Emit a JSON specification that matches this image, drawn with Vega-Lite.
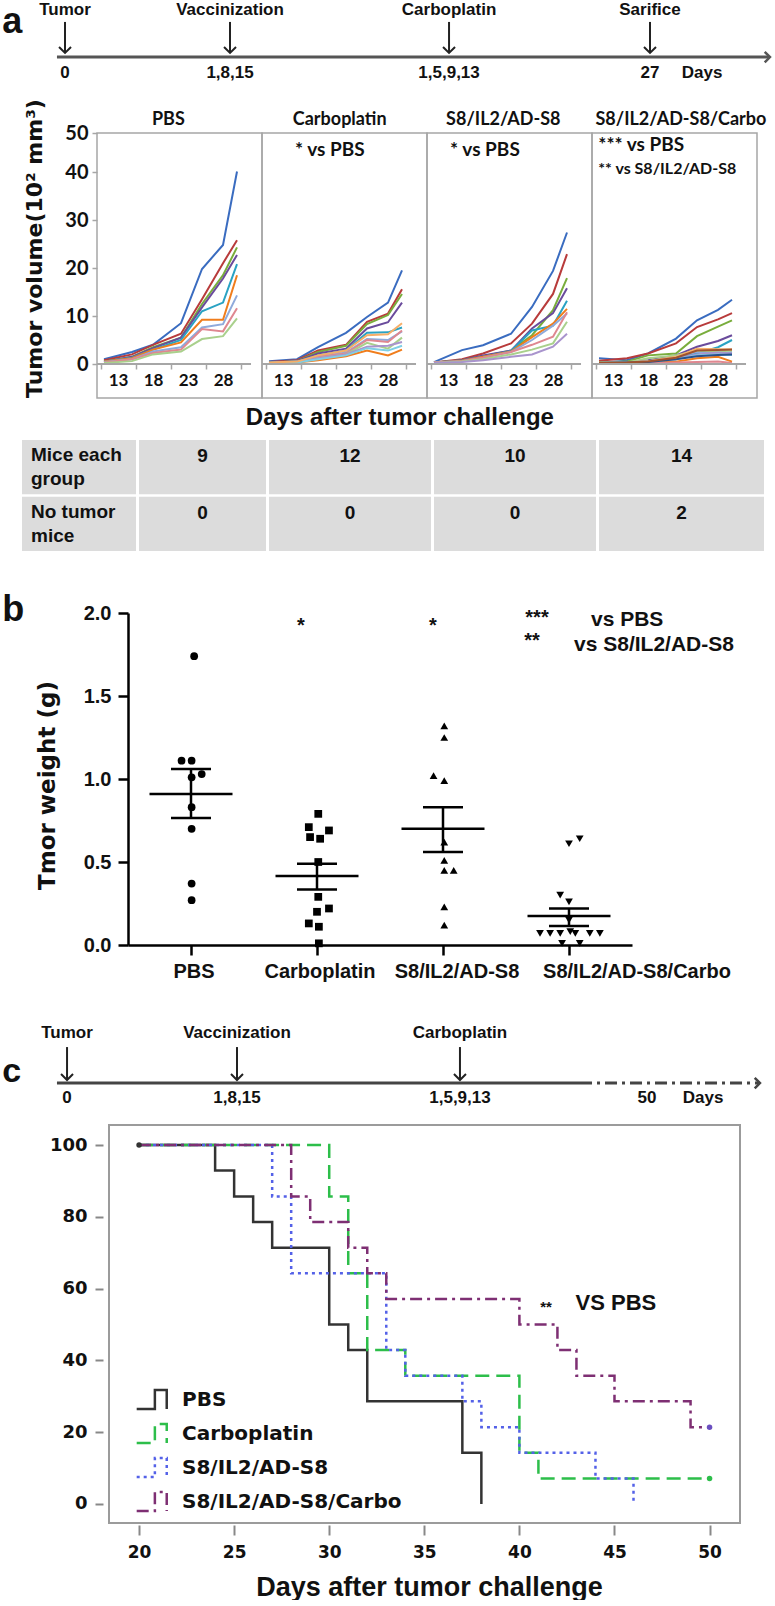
{
"$schema":"https://vega.github.io/schema/vega-lite/v6.json",
"background":"white","padding":0,"spacing":0,"bounds":"flush",
"resolve":{"scale":{"color":"independent","shape":"independent","strokeDash":"independent"},"legend":{"color":"independent","strokeDash":"independent"}},
"config":{"view":{"stroke":null},"font":"Liberation Sans","axis":{"grid":false,"labelColor":"#111","titleColor":"#111","labelFontWeight":"bold","titleFontWeight":"bold"},"text":{"font":"Liberation Sans","fontWeight":"bold","color":"#111"},"title":{"color":"#111","fontWeight":"bold"}},
"datasets":{
"vol":[
{"g":"PBS","m":1,"d":11,"v":1.0},{"g":"PBS","m":1,"d":15,"v":2.5},{"g":"PBS","m":1,"d":18,"v":4.0},{"g":"PBS","m":1,"d":22,"v":8.5},{"g":"PBS","m":1,"d":25,"v":19.8},{"g":"PBS","m":1,"d":28,"v":24.8},{"g":"PBS","m":1,"d":30,"v":40.1},
{"g":"PBS","m":2,"d":11,"v":0.8},{"g":"PBS","m":2,"d":15,"v":2.0},{"g":"PBS","m":2,"d":18,"v":4.0},{"g":"PBS","m":2,"d":22,"v":6.3},{"g":"PBS","m":2,"d":25,"v":13.5},{"g":"PBS","m":2,"d":28,"v":21.0},{"g":"PBS","m":2,"d":30,"v":25.8},
{"g":"PBS","m":3,"d":11,"v":0.5},{"g":"PBS","m":3,"d":15,"v":1.5},{"g":"PBS","m":3,"d":18,"v":3.5},{"g":"PBS","m":3,"d":22,"v":5.5},{"g":"PBS","m":3,"d":25,"v":12.5},{"g":"PBS","m":3,"d":28,"v":18.5},{"g":"PBS","m":3,"d":30,"v":24.3},
{"g":"PBS","m":4,"d":11,"v":0.5},{"g":"PBS","m":4,"d":15,"v":1.5},{"g":"PBS","m":4,"d":18,"v":3.3},{"g":"PBS","m":4,"d":22,"v":5.5},{"g":"PBS","m":4,"d":25,"v":11.8},{"g":"PBS","m":4,"d":28,"v":17.8},{"g":"PBS","m":4,"d":30,"v":22.7},
{"g":"PBS","m":5,"d":11,"v":0.5},{"g":"PBS","m":5,"d":15,"v":1.3},{"g":"PBS","m":5,"d":18,"v":3.0},{"g":"PBS","m":5,"d":22,"v":5.0},{"g":"PBS","m":5,"d":25,"v":11.0},{"g":"PBS","m":5,"d":28,"v":12.8},{"g":"PBS","m":5,"d":30,"v":20.8},
{"g":"PBS","m":6,"d":11,"v":0.5},{"g":"PBS","m":6,"d":15,"v":1.2},{"g":"PBS","m":6,"d":18,"v":3.0},{"g":"PBS","m":6,"d":22,"v":4.5},{"g":"PBS","m":6,"d":25,"v":9.2},{"g":"PBS","m":6,"d":28,"v":9.2},{"g":"PBS","m":6,"d":30,"v":18.5},
{"g":"PBS","m":7,"d":11,"v":0.4},{"g":"PBS","m":7,"d":15,"v":1.0},{"g":"PBS","m":7,"d":18,"v":2.6},{"g":"PBS","m":7,"d":22,"v":3.5},{"g":"PBS","m":7,"d":25,"v":7.6},{"g":"PBS","m":7,"d":28,"v":8.3},{"g":"PBS","m":7,"d":30,"v":14.3},
{"g":"PBS","m":8,"d":11,"v":0.3},{"g":"PBS","m":8,"d":15,"v":1.0},{"g":"PBS","m":8,"d":18,"v":2.3},{"g":"PBS","m":8,"d":22,"v":3.0},{"g":"PBS","m":8,"d":25,"v":7.3},{"g":"PBS","m":8,"d":28,"v":6.8},{"g":"PBS","m":8,"d":30,"v":11.6},
{"g":"PBS","m":9,"d":11,"v":0.2},{"g":"PBS","m":9,"d":15,"v":0.6},{"g":"PBS","m":9,"d":18,"v":2.0},{"g":"PBS","m":9,"d":22,"v":2.6},{"g":"PBS","m":9,"d":25,"v":5.2},{"g":"PBS","m":9,"d":28,"v":5.8},{"g":"PBS","m":9,"d":30,"v":9.5},
{"g":"C","m":1,"d":11,"v":0.6},{"g":"C","m":1,"d":15,"v":1.0},{"g":"C","m":1,"d":18,"v":3.5},{"g":"C","m":1,"d":22,"v":6.5},{"g":"C","m":1,"d":25,"v":9.8},{"g":"C","m":1,"d":28,"v":12.8},{"g":"C","m":1,"d":30,"v":19.5},
{"g":"C","m":2,"d":11,"v":0.4},{"g":"C","m":2,"d":15,"v":0.8},{"g":"C","m":2,"d":18,"v":2.8},{"g":"C","m":2,"d":22,"v":4.0},{"g":"C","m":2,"d":25,"v":8.8},{"g":"C","m":2,"d":28,"v":10.5},{"g":"C","m":2,"d":30,"v":15.6},
{"g":"C","m":3,"d":11,"v":0.3},{"g":"C","m":3,"d":15,"v":0.6},{"g":"C","m":3,"d":18,"v":2.5},{"g":"C","m":3,"d":22,"v":3.8},{"g":"C","m":3,"d":25,"v":8.3},{"g":"C","m":3,"d":28,"v":10.2},{"g":"C","m":3,"d":30,"v":14.6},
{"g":"C","m":4,"d":11,"v":0.3},{"g":"C","m":4,"d":15,"v":0.6},{"g":"C","m":4,"d":18,"v":2.2},{"g":"C","m":4,"d":22,"v":3.2},{"g":"C","m":4,"d":25,"v":7.4},{"g":"C","m":4,"d":28,"v":8.7},{"g":"C","m":4,"d":30,"v":12.8},
{"g":"C","m":5,"d":11,"v":0.3},{"g":"C","m":5,"d":15,"v":0.5},{"g":"C","m":5,"d":18,"v":1.8},{"g":"C","m":5,"d":22,"v":2.8},{"g":"C","m":5,"d":25,"v":6.5},{"g":"C","m":5,"d":28,"v":6.6},{"g":"C","m":5,"d":30,"v":7.6},
{"g":"C","m":6,"d":11,"v":0.1},{"g":"C","m":6,"d":15,"v":0.3},{"g":"C","m":6,"d":18,"v":0.8},{"g":"C","m":6,"d":22,"v":1.6},{"g":"C","m":6,"d":25,"v":2.8},{"g":"C","m":6,"d":28,"v":1.8},{"g":"C","m":6,"d":30,"v":3.0},
{"g":"C","m":7,"d":11,"v":0.2},{"g":"C","m":7,"d":15,"v":0.5},{"g":"C","m":7,"d":18,"v":1.5},{"g":"C","m":7,"d":22,"v":2.4},{"g":"C","m":7,"d":25,"v":5.2},{"g":"C","m":7,"d":28,"v":5.0},{"g":"C","m":7,"d":30,"v":6.8},
{"g":"C","m":8,"d":11,"v":0.2},{"g":"C","m":8,"d":15,"v":0.4},{"g":"C","m":8,"d":18,"v":1.5},{"g":"C","m":8,"d":22,"v":2.2},{"g":"C","m":8,"d":25,"v":5.0},{"g":"C","m":8,"d":28,"v":4.6},{"g":"C","m":8,"d":30,"v":7.0},
{"g":"C","m":9,"d":11,"v":0.2},{"g":"C","m":9,"d":15,"v":0.4},{"g":"C","m":9,"d":18,"v":1.2},{"g":"C","m":9,"d":22,"v":2.0},{"g":"C","m":9,"d":25,"v":4.4},{"g":"C","m":9,"d":28,"v":3.2},{"g":"C","m":9,"d":30,"v":5.5},
{"g":"C","m":10,"d":11,"v":0.2},{"g":"C","m":10,"d":15,"v":0.4},{"g":"C","m":10,"d":18,"v":1.2},{"g":"C","m":10,"d":22,"v":2.0},{"g":"C","m":10,"d":25,"v":3.6},{"g":"C","m":10,"d":28,"v":3.8},{"g":"C","m":10,"d":30,"v":4.6},
{"g":"C","m":11,"d":11,"v":0.2},{"g":"C","m":11,"d":15,"v":0.3},{"g":"C","m":11,"d":18,"v":1.0},{"g":"C","m":11,"d":22,"v":1.8},{"g":"C","m":11,"d":25,"v":3.3},{"g":"C","m":11,"d":28,"v":2.8},{"g":"C","m":11,"d":30,"v":3.8},
{"g":"C","m":12,"d":11,"v":0.3},{"g":"C","m":12,"d":15,"v":0.5},{"g":"C","m":12,"d":18,"v":1.8},{"g":"C","m":12,"d":22,"v":2.8},{"g":"C","m":12,"d":25,"v":6.0},{"g":"C","m":12,"d":28,"v":6.2},{"g":"C","m":12,"d":30,"v":8.5},
{"g":"S8","m":1,"d":11,"v":0.4},{"g":"S8","m":1,"d":15,"v":2.9},{"g":"S8","m":1,"d":18,"v":3.9},{"g":"S8","m":1,"d":22,"v":6.3},{"g":"S8","m":1,"d":25,"v":11.9},{"g":"S8","m":1,"d":28,"v":19.4},{"g":"S8","m":1,"d":30,"v":27.4},
{"g":"S8","m":2,"d":11,"v":0.3},{"g":"S8","m":2,"d":15,"v":1.0},{"g":"S8","m":2,"d":18,"v":2.2},{"g":"S8","m":2,"d":22,"v":4.3},{"g":"S8","m":2,"d":25,"v":8.4},{"g":"S8","m":2,"d":28,"v":14.6},{"g":"S8","m":2,"d":30,"v":22.9},
{"g":"S8","m":3,"d":11,"v":0.3},{"g":"S8","m":3,"d":15,"v":0.8},{"g":"S8","m":3,"d":18,"v":1.6},{"g":"S8","m":3,"d":22,"v":2.8},{"g":"S8","m":3,"d":25,"v":6.0},{"g":"S8","m":3,"d":28,"v":11.2},{"g":"S8","m":3,"d":30,"v":17.9},
{"g":"S8","m":4,"d":11,"v":0.3},{"g":"S8","m":4,"d":15,"v":0.8},{"g":"S8","m":4,"d":18,"v":1.8},{"g":"S8","m":4,"d":22,"v":2.8},{"g":"S8","m":4,"d":25,"v":7.4},{"g":"S8","m":4,"d":28,"v":10.6},{"g":"S8","m":4,"d":30,"v":15.8},
{"g":"S8","m":5,"d":11,"v":0.3},{"g":"S8","m":5,"d":15,"v":0.7},{"g":"S8","m":5,"d":18,"v":1.5},{"g":"S8","m":5,"d":22,"v":2.7},{"g":"S8","m":5,"d":25,"v":7.0},{"g":"S8","m":5,"d":28,"v":8.0},{"g":"S8","m":5,"d":30,"v":13.2},
{"g":"S8","m":6,"d":11,"v":0.3},{"g":"S8","m":6,"d":15,"v":0.7},{"g":"S8","m":6,"d":18,"v":1.5},{"g":"S8","m":6,"d":22,"v":2.6},{"g":"S8","m":6,"d":25,"v":5.6},{"g":"S8","m":6,"d":28,"v":8.4},{"g":"S8","m":6,"d":30,"v":11.5},
{"g":"S8","m":7,"d":11,"v":0.3},{"g":"S8","m":7,"d":15,"v":0.6},{"g":"S8","m":7,"d":18,"v":1.3},{"g":"S8","m":7,"d":22,"v":2.5},{"g":"S8","m":7,"d":25,"v":5.0},{"g":"S8","m":7,"d":28,"v":8.0},{"g":"S8","m":7,"d":30,"v":10.5},
{"g":"S8","m":8,"d":11,"v":0.3},{"g":"S8","m":8,"d":15,"v":0.6},{"g":"S8","m":8,"d":18,"v":1.3},{"g":"S8","m":8,"d":22,"v":2.5},{"g":"S8","m":8,"d":25,"v":4.0},{"g":"S8","m":8,"d":28,"v":5.7},{"g":"S8","m":8,"d":30,"v":10.8},
{"g":"S8","m":9,"d":11,"v":0.2},{"g":"S8","m":9,"d":15,"v":0.5},{"g":"S8","m":9,"d":18,"v":1.0},{"g":"S8","m":9,"d":22,"v":2.0},{"g":"S8","m":9,"d":25,"v":3.0},{"g":"S8","m":9,"d":28,"v":4.3},{"g":"S8","m":9,"d":30,"v":8.8},
{"g":"S8","m":10,"d":11,"v":0.2},{"g":"S8","m":10,"d":15,"v":0.4},{"g":"S8","m":10,"d":18,"v":0.8},{"g":"S8","m":10,"d":22,"v":1.5},{"g":"S8","m":10,"d":25,"v":2.0},{"g":"S8","m":10,"d":28,"v":3.6},{"g":"S8","m":10,"d":30,"v":6.3},
{"g":"SC","m":1,"d":11,"v":1.2},{"g":"SC","m":1,"d":15,"v":0.8},{"g":"SC","m":1,"d":18,"v":2.2},{"g":"SC","m":1,"d":22,"v":5.3},{"g":"SC","m":1,"d":25,"v":9.1},{"g":"SC","m":1,"d":28,"v":11.3},{"g":"SC","m":1,"d":30,"v":13.4},
{"g":"SC","m":2,"d":11,"v":0.7},{"g":"SC","m":2,"d":15,"v":1.2},{"g":"SC","m":2,"d":18,"v":2.2},{"g":"SC","m":2,"d":22,"v":4.3},{"g":"SC","m":2,"d":25,"v":7.7},{"g":"SC","m":2,"d":28,"v":9.3},{"g":"SC","m":2,"d":30,"v":10.6},
{"g":"SC","m":3,"d":11,"v":0.3},{"g":"SC","m":3,"d":15,"v":0.5},{"g":"SC","m":3,"d":18,"v":1.8},{"g":"SC","m":3,"d":22,"v":2.2},{"g":"SC","m":3,"d":25,"v":5.8},{"g":"SC","m":3,"d":28,"v":7.8},{"g":"SC","m":3,"d":30,"v":9.1},
{"g":"SC","m":4,"d":11,"v":0.2},{"g":"SC","m":4,"d":15,"v":0.3},{"g":"SC","m":4,"d":18,"v":0.8},{"g":"SC","m":4,"d":22,"v":1.8},{"g":"SC","m":4,"d":25,"v":3.6},{"g":"SC","m":4,"d":28,"v":4.8},{"g":"SC","m":4,"d":30,"v":6.0},
{"g":"SC","m":5,"d":11,"v":0.2},{"g":"SC","m":5,"d":15,"v":0.3},{"g":"SC","m":5,"d":18,"v":0.6},{"g":"SC","m":5,"d":22,"v":1.5},{"g":"SC","m":5,"d":25,"v":2.2},{"g":"SC","m":5,"d":28,"v":3.5},{"g":"SC","m":5,"d":30,"v":5.0},
{"g":"SC","m":6,"d":11,"v":0.1},{"g":"SC","m":6,"d":15,"v":0.2},{"g":"SC","m":6,"d":18,"v":0.3},{"g":"SC","m":6,"d":22,"v":0.5},{"g":"SC","m":6,"d":25,"v":1.2},{"g":"SC","m":6,"d":28,"v":1.5},{"g":"SC","m":6,"d":30,"v":0.5},
{"g":"SC","m":7,"d":11,"v":0.2},{"g":"SC","m":7,"d":15,"v":0.3},{"g":"SC","m":7,"d":18,"v":0.5},{"g":"SC","m":7,"d":22,"v":1.6},{"g":"SC","m":7,"d":25,"v":2.5},{"g":"SC","m":7,"d":28,"v":2.2},{"g":"SC","m":7,"d":30,"v":2.5},
{"g":"SC","m":8,"d":11,"v":0.1},{"g":"SC","m":8,"d":15,"v":0.1},{"g":"SC","m":8,"d":18,"v":0.2},{"g":"SC","m":8,"d":22,"v":0.3},{"g":"SC","m":8,"d":25,"v":0.4},{"g":"SC","m":8,"d":28,"v":0.5},{"g":"SC","m":8,"d":30,"v":0.2},
{"g":"SC","m":9,"d":11,"v":0.2},{"g":"SC","m":9,"d":15,"v":0.3},{"g":"SC","m":9,"d":18,"v":1.2},{"g":"SC","m":9,"d":22,"v":1.8},{"g":"SC","m":9,"d":25,"v":2.8},{"g":"SC","m":9,"d":28,"v":2.6},{"g":"SC","m":9,"d":30,"v":2.8},
{"g":"SC","m":10,"d":11,"v":0.2},{"g":"SC","m":10,"d":15,"v":0.3},{"g":"SC","m":10,"d":18,"v":0.6},{"g":"SC","m":10,"d":22,"v":1.2},{"g":"SC","m":10,"d":25,"v":2.0},{"g":"SC","m":10,"d":28,"v":2.4},{"g":"SC","m":10,"d":30,"v":2.2},
{"g":"SC","m":11,"d":11,"v":0.2},{"g":"SC","m":11,"d":15,"v":0.3},{"g":"SC","m":11,"d":18,"v":0.5},{"g":"SC","m":11,"d":22,"v":1.0},{"g":"SC","m":11,"d":25,"v":1.8},{"g":"SC","m":11,"d":28,"v":2.0},{"g":"SC","m":11,"d":30,"v":1.9},
{"g":"SC","m":12,"d":11,"v":0.2},{"g":"SC","m":12,"d":15,"v":0.3},{"g":"SC","m":12,"d":18,"v":0.6},{"g":"SC","m":12,"d":22,"v":1.5},{"g":"SC","m":12,"d":25,"v":3.2},{"g":"SC","m":12,"d":28,"v":3.1},{"g":"SC","m":12,"d":30,"v":3.0},
{"g":"SC","m":13,"d":11,"v":0.2},{"g":"SC","m":13,"d":15,"v":0.3},{"g":"SC","m":13,"d":18,"v":0.4},{"g":"SC","m":13,"d":22,"v":1.0},{"g":"SC","m":13,"d":25,"v":1.6},{"g":"SC","m":13,"d":28,"v":1.9},{"g":"SC","m":13,"d":30,"v":2.0},
{"g":"SC","m":14,"d":11,"v":0.2},{"g":"SC","m":14,"d":15,"v":0.3},{"g":"SC","m":14,"d":18,"v":0.5},{"g":"SC","m":14,"d":22,"v":1.3},{"g":"SC","m":14,"d":25,"v":2.8},{"g":"SC","m":14,"d":28,"v":2.9},{"g":"SC","m":14,"d":30,"v":3.0}
],
"wt":[
{"g":"PBS","w":1.74,"j":0.05},{"g":"PBS","w":1.11,"j":-0.15},{"g":"PBS","w":1.11,"j":0.01},{"g":"PBS","w":1.01,"j":0.01},{"g":"PBS","w":1.03,"j":0.17},{"g":"PBS","w":0.83,"j":0.01},{"g":"PBS","w":0.70,"j":0.01},{"g":"PBS","w":0.37,"j":0.01},{"g":"PBS","w":0.27,"j":0.01},
{"g":"Carboplatin","w":0.79,"j":0.02},{"g":"Carboplatin","w":0.71,"j":-0.13},{"g":"Carboplatin","w":0.69,"j":0.19},{"g":"Carboplatin","w":0.65,"j":-0.11},{"g":"Carboplatin","w":0.64,"j":0.05},{"g":"Carboplatin","w":0.50,"j":0.02},{"g":"Carboplatin","w":0.29,"j":0.02},{"g":"Carboplatin","w":0.22,"j":0.19},{"g":"Carboplatin","w":0.20,"j":0.0},{"g":"Carboplatin","w":0.13,"j":-0.13},{"g":"Carboplatin","w":0.11,"j":0.03},{"g":"Carboplatin","w":0.01,"j":0.03},
{"g":"S8/IL2/AD-S8","w":1.32,"j":0.02},{"g":"S8/IL2/AD-S8","w":1.25,"j":0.02},{"g":"S8/IL2/AD-S8","w":1.02,"j":-0.15},{"g":"S8/IL2/AD-S8","w":0.99,"j":0.02},{"g":"S8/IL2/AD-S8","w":0.62,"j":0.02},{"g":"S8/IL2/AD-S8","w":0.51,"j":0.02},{"g":"S8/IL2/AD-S8","w":0.45,"j":0.02},{"g":"S8/IL2/AD-S8","w":0.45,"j":0.17},{"g":"S8/IL2/AD-S8","w":0.23,"j":0.02},{"g":"S8/IL2/AD-S8","w":0.12,"j":0.02},
{"g":"S8/IL2/AD-S8/Carbo","w":0.64,"j":0.17},{"g":"S8/IL2/AD-S8/Carbo","w":0.61,"j":0.0},{"g":"S8/IL2/AD-S8/Carbo","w":0.30,"j":-0.14},{"g":"S8/IL2/AD-S8/Carbo","w":0.26,"j":0.0},{"g":"S8/IL2/AD-S8/Carbo","w":0.15,"j":0.0},{"g":"S8/IL2/AD-S8/Carbo","w":0.07,"j":-0.46},{"g":"S8/IL2/AD-S8/Carbo","w":0.07,"j":-0.30},{"g":"S8/IL2/AD-S8/Carbo","w":0.07,"j":-0.14},{"g":"S8/IL2/AD-S8/Carbo","w":0.08,"j":0.02},{"g":"S8/IL2/AD-S8/Carbo","w":0.07,"j":0.10},{"g":"S8/IL2/AD-S8/Carbo","w":0.07,"j":0.33},{"g":"S8/IL2/AD-S8/Carbo","w":0.07,"j":0.49},{"g":"S8/IL2/AD-S8/Carbo","w":0.01,"j":-0.11},{"g":"S8/IL2/AD-S8/Carbo","w":0.01,"j":0.17}
],
"stats":[
{"g":"PBS","mean":0.91,"lo":0.765,"hi":1.06},
{"g":"Carboplatin","mean":0.415,"lo":0.335,"hi":0.49},
{"g":"S8/IL2/AD-S8","mean":0.70,"lo":0.56,"hi":0.83},
{"g":"S8/IL2/AD-S8/Carbo","mean":0.175,"lo":0.115,"hi":0.22}
],
"surv":[
{"g":"PBS","d":20,"s":100},{"g":"PBS","d":24,"s":92.9},{"g":"PBS","d":25,"s":85.7},{"g":"PBS","d":26,"s":78.6},{"g":"PBS","d":27,"s":71.4},{"g":"PBS","d":30,"s":50},{"g":"PBS","d":31,"s":42.9},{"g":"PBS","d":32,"s":28.6},{"g":"PBS","d":37,"s":14.3},{"g":"PBS","d":38,"s":0},
{"g":"Carboplatin","d":20,"s":100},{"g":"Carboplatin","d":30,"s":85.7},{"g":"Carboplatin","d":31,"s":64.3},{"g":"Carboplatin","d":32,"s":42.9},{"g":"Carboplatin","d":34,"s":35.7},{"g":"Carboplatin","d":40,"s":14.3},{"g":"Carboplatin","d":41,"s":7.1},{"g":"Carboplatin","d":50,"s":7.1},
{"g":"S8/IL2/AD-S8","d":20,"s":100},{"g":"S8/IL2/AD-S8","d":27,"s":85.7},{"g":"S8/IL2/AD-S8","d":28,"s":64.3},{"g":"S8/IL2/AD-S8","d":33,"s":42.9},{"g":"S8/IL2/AD-S8","d":34,"s":35.7},{"g":"S8/IL2/AD-S8","d":37,"s":28.6},{"g":"S8/IL2/AD-S8","d":38,"s":21.4},{"g":"S8/IL2/AD-S8","d":40,"s":14.3},{"g":"S8/IL2/AD-S8","d":44,"s":7.1},{"g":"S8/IL2/AD-S8","d":46,"s":0},
{"g":"S8/IL2/AD-S8/Carbo","d":20,"s":100},{"g":"S8/IL2/AD-S8/Carbo","d":28,"s":85.7},{"g":"S8/IL2/AD-S8/Carbo","d":29,"s":78.6},{"g":"S8/IL2/AD-S8/Carbo","d":31,"s":71.4},{"g":"S8/IL2/AD-S8/Carbo","d":32,"s":64.3},{"g":"S8/IL2/AD-S8/Carbo","d":33,"s":57.1},{"g":"S8/IL2/AD-S8/Carbo","d":40,"s":50},{"g":"S8/IL2/AD-S8/Carbo","d":42,"s":42.9},{"g":"S8/IL2/AD-S8/Carbo","d":43,"s":35.7},{"g":"S8/IL2/AD-S8/Carbo","d":45,"s":28.6},{"g":"S8/IL2/AD-S8/Carbo","d":49,"s":21.4},{"g":"S8/IL2/AD-S8/Carbo","d":50,"s":21.4}
],
"cens":[
{"g":"PBS","d":20,"s":100},{"g":"Carboplatin","d":50,"s":7.1},{"g":"S8/IL2/AD-S8/Carbo","d":50,"s":21.4}
]
},
"vconcat":[
{"width":775,"height":133,
 "data":{"values":[{"p":8.39,"top":"Tumor","bot":"0"},{"p":29.68,"top":"Vaccinization","bot":"1,8,15"},{"p":57.94,"top":"Carboplatin","bot":"1,5,9,13"},{"p":83.87,"top":"Sarifice","bot":"27"},{"p":90.6,"top":"","bot":"Days"}]},
 "layer":[
  {"data":{"values":[{}]},"mark":{"type":"rule","color":"#555","strokeWidth":3},
   "encoding":{"x":{"datum":7.35,"type":"quantitative","scale":{"domain":[0,100],"nice":false,"zero":false},"axis":null},"x2":{"datum":99.2},"y":{"datum":42.9,"type":"quantitative","scale":{"domain":[0,100],"reverse":true,"nice":false,"zero":false},"axis":null}}},
  {"data":{"values":[{}]},"mark":{"type":"point","shape":"M-1,-1L0,0L-1,1","filled":false,"color":"#555","strokeWidth":2.5,"size":110,"opacity":1},
   "encoding":{"x":{"datum":99.35,"type":"quantitative"},"y":{"datum":42.9,"type":"quantitative"}}},
  {"transform":[{"filter":"datum.top !== ''"}],"mark":{"type":"rule","color":"#222","strokeWidth":2},
   "encoding":{"x":{"field":"p","type":"quantitative"},"y":{"datum":16.5,"type":"quantitative"},"y2":{"datum":39.6}}},
  {"transform":[{"filter":"datum.top !== ''"}],"mark":{"type":"point","shape":"M-1,-1L0,0L1,-1","filled":false,"color":"#222","strokeWidth":2,"size":144,"opacity":1},
   "encoding":{"x":{"field":"p","type":"quantitative"},"y":{"datum":39.8,"type":"quantitative"}}},
  {"mark":{"type":"text","fontSize":17,"baseline":"middle"},"encoding":{"x":{"field":"p","type":"quantitative"},"y":{"datum":7.5,"type":"quantitative"},"text":{"field":"top"}}},
  {"mark":{"type":"text","fontSize":17,"baseline":"middle"},"encoding":{"x":{"field":"p","type":"quantitative"},"y":{"datum":54.9,"type":"quantitative"},"text":{"field":"bot"}}},
  {"data":{"values":[{}]},"mark":{"type":"text","text":"a","fontSize":36,"align":"left","baseline":"alphabetic"},"encoding":{"x":{"datum":0.3,"type":"quantitative"},"y":{"datum":24.8,"type":"quantitative"}}}
 ]},
{"width":775,"height":265,
 "resolve":{"scale":{"x":"independent"},"axis":{"x":"independent"}},
 "layer":[
  {"data":{"name":"vol"},"transform":[{"filter":"datum.g === 'PBS'"}],"mark":{"type":"line","strokeWidth":2},
   "encoding":{
    "x":{"field":"d","type":"quantitative","scale":{"domain":[10,33.57],"range":[97,262],"nice":false,"zero":false},"axis":{"orient":"bottom","values":[10.5,15.5,20.5,25.5,30.5],"labelExpr":"datum.value > 30 ? '' : format(datum.value + 2.5, 'd')","labelOffset":17.5,"offset":-34,"domain":false,"tickColor":"#a6a6a6","tickWidth":1.5,"tickSize":5,"labelFont":"Lato","labelFontSize":17,"labelPadding":3,"title":null}},
    "y":{"field":"v","type":"quantitative","scale":{"domain":[-7.08,48.125],"nice":false,"zero":false},"axis":{"orient":"left","offset":-97,"values":[0,10,20,30,40,48.125],"labelExpr":"datum.value > 45 ? '50' : datum.label","domain":false,"tickColor":"#a6a6a6","tickWidth":1.5,"tickSize":5,"labelFont":"Lato","labelFontSize":20,"labelPadding":4,"title":"Tumor volume(10² mm³)","titleFont":"DejaVu Sans","titleFontSize":22,"titleX":-56,"titleY":115,"titleBaseline":"alphabetic"}},
    "color":{"field":"m","type":"nominal","scale":{"domain":[1,2,3,4,5,6,7,8,9,10,11,12,13,14],"range":["#3a6cc0","#b83b3b","#79ad3c","#6a4b9c","#2aa2c3","#f07d1c","#8faadb","#df8790","#a9d08c","#a994cd","#80cfe4","#f7ae68","#27508c","#a0522d"]},"legend":null}}},
  {"data":{"name":"vol"},"transform":[{"filter":"datum.g === 'C'"}],"mark":{"type":"line","strokeWidth":2},
   "encoding":{
    "x":{"field":"d","type":"quantitative","scale":{"domain":[10,33.57],"range":[262,427],"nice":false,"zero":false},"axis":{"orient":"bottom","values":[10.5,15.5,20.5,25.5,30.5],"labelExpr":"datum.value > 30 ? '' : format(datum.value + 2.5, 'd')","labelOffset":17.5,"offset":-34,"domain":false,"tickColor":"#a6a6a6","tickWidth":1.5,"tickSize":5,"labelFont":"Lato","labelFontSize":17,"labelPadding":3,"title":null}},
    "y":{"field":"v","type":"quantitative"},
    "color":{"field":"m","type":"nominal","legend":null}}},
  {"data":{"name":"vol"},"transform":[{"filter":"datum.g === 'S8'"}],"mark":{"type":"line","strokeWidth":2},
   "encoding":{
    "x":{"field":"d","type":"quantitative","scale":{"domain":[10,33.57],"range":[427,592],"nice":false,"zero":false},"axis":{"orient":"bottom","values":[10.5,15.5,20.5,25.5,30.5],"labelExpr":"datum.value > 30 ? '' : format(datum.value + 2.5, 'd')","labelOffset":17.5,"offset":-34,"domain":false,"tickColor":"#a6a6a6","tickWidth":1.5,"tickSize":5,"labelFont":"Lato","labelFontSize":17,"labelPadding":3,"title":null}},
    "y":{"field":"v","type":"quantitative"},
    "color":{"field":"m","type":"nominal","legend":null}}},
  {"data":{"name":"vol"},"transform":[{"filter":"datum.g === 'SC'"}],"mark":{"type":"line","strokeWidth":2},
   "encoding":{
    "x":{"field":"d","type":"quantitative","scale":{"domain":[10,33.57],"range":[592,757],"nice":false,"zero":false},"axis":{"orient":"bottom","values":[10.5,15.5,20.5,25.5,30.5],"labelExpr":"datum.value > 30 ? '' : format(datum.value + 2.5, 'd')","labelOffset":17.5,"offset":-34,"domain":false,"tickColor":"#a6a6a6","tickWidth":1.5,"tickSize":5,"labelFont":"Lato","labelFontSize":17,"labelPadding":3,"title":null}},
    "y":{"field":"v","type":"quantitative"},
    "color":{"field":"m","type":"nominal","legend":null}}},
  {"data":{"values":[{}]},"mark":{"type":"rect","fillOpacity":0,"stroke":"#a6a6a6","strokeWidth":1.5},"encoding":{"x":{"datum":10,"type":"quantitative","scale":{"domain":[10,33.57],"range":[97,262],"nice":false,"zero":false},"axis":null},"x2":{"datum":33.57},"y":{"datum":-7.08,"type":"quantitative"},"y2":{"datum":48.125}}},
  {"data":{"values":[{}]},"mark":{"type":"rect","fillOpacity":0,"stroke":"#a6a6a6","strokeWidth":1.5},"encoding":{"x":{"datum":10,"type":"quantitative","scale":{"domain":[10,33.57],"range":[262,427],"nice":false,"zero":false},"axis":null},"x2":{"datum":33.57},"y":{"datum":-7.08,"type":"quantitative"},"y2":{"datum":48.125}}},
  {"data":{"values":[{}]},"mark":{"type":"rect","fillOpacity":0,"stroke":"#a6a6a6","strokeWidth":1.5},"encoding":{"x":{"datum":10,"type":"quantitative","scale":{"domain":[10,33.57],"range":[427,592],"nice":false,"zero":false},"axis":null},"x2":{"datum":33.57},"y":{"datum":-7.08,"type":"quantitative"},"y2":{"datum":48.125}}},
  {"data":{"values":[{}]},"mark":{"type":"rect","fillOpacity":0,"stroke":"#a6a6a6","strokeWidth":1.5},"encoding":{"x":{"datum":10,"type":"quantitative","scale":{"domain":[10,33.57],"range":[592,757],"nice":false,"zero":false},"axis":null},"x2":{"datum":33.57},"y":{"datum":-7.08,"type":"quantitative"},"y2":{"datum":48.125}}},
  {"data":{"values":[{}]},"mark":{"type":"rule","color":"#a6a6a6","strokeWidth":2},"encoding":{"x":{"datum":10,"type":"quantitative","scale":{"domain":[10,33.57],"range":[97,262],"nice":false,"zero":false},"axis":null},"x2":{"datum":32},"y":{"datum":0,"type":"quantitative"}}},
  {"data":{"values":[{}]},"mark":{"type":"rule","color":"#a6a6a6","strokeWidth":2},"encoding":{"x":{"datum":10,"type":"quantitative","scale":{"domain":[10,33.57],"range":[262,427],"nice":false,"zero":false},"axis":null},"x2":{"datum":32},"y":{"datum":0,"type":"quantitative"}}},
  {"data":{"values":[{}]},"mark":{"type":"rule","color":"#a6a6a6","strokeWidth":2},"encoding":{"x":{"datum":10,"type":"quantitative","scale":{"domain":[10,33.57],"range":[427,592],"nice":false,"zero":false},"axis":null},"x2":{"datum":32},"y":{"datum":0,"type":"quantitative"}}},
  {"data":{"values":[{}]},"mark":{"type":"rule","color":"#a6a6a6","strokeWidth":2},"encoding":{"x":{"datum":10,"type":"quantitative","scale":{"domain":[10,33.57],"range":[592,757],"nice":false,"zero":false},"axis":null},"x2":{"datum":32},"y":{"datum":0,"type":"quantitative"}}},
  {"data":{"values":[{}]},"mark":{"type":"text","text":"PBS","font":"Lato","fontSize":18,"baseline":"middle"},"encoding":{"x":{"datum":20.2,"type":"quantitative","scale":{"domain":[10,33.57],"range":[97,262],"nice":false,"zero":false},"axis":null},"y":{"datum":50.8,"type":"quantitative"}}},
  {"data":{"values":[{}]},"mark":{"type":"text","text":"Carboplatin","font":"Lato","fontSize":18,"baseline":"middle"},"encoding":{"x":{"datum":21.1,"type":"quantitative","scale":{"domain":[10,33.57],"range":[262,427],"nice":false,"zero":false},"axis":null},"y":{"datum":50.8,"type":"quantitative"}}},
  {"data":{"values":[{}]},"mark":{"type":"text","text":"S8/IL2/AD-S8","font":"Lato","fontSize":18,"baseline":"middle"},"encoding":{"x":{"datum":20.9,"type":"quantitative","scale":{"domain":[10,33.57],"range":[427,592],"nice":false,"zero":false},"axis":null},"y":{"datum":50.8,"type":"quantitative"}}},
  {"data":{"values":[{}]},"mark":{"type":"text","text":"S8/IL2/AD-S8/Carbo","font":"Lato","fontSize":18,"baseline":"middle"},"encoding":{"x":{"datum":22.7,"type":"quantitative","scale":{"domain":[10,33.57],"range":[592,757],"nice":false,"zero":false},"axis":null},"y":{"datum":50.8,"type":"quantitative"}}},
  {"data":{"values":[{}]},"mark":{"type":"text","text":"* vs PBS","font":"Lato","fontSize":19,"align":"left","baseline":"middle"},"encoding":{"x":{"datum":14.7,"type":"quantitative","scale":{"domain":[10,33.57],"range":[262,427],"nice":false,"zero":false},"axis":null},"y":{"datum":44.6,"type":"quantitative"}}},
  {"data":{"values":[{}]},"mark":{"type":"text","text":"* vs PBS","font":"Lato","fontSize":19,"align":"left","baseline":"middle"},"encoding":{"x":{"datum":13.3,"type":"quantitative","scale":{"domain":[10,33.57],"range":[427,592],"nice":false,"zero":false},"axis":null},"y":{"datum":44.6,"type":"quantitative"}}},
  {"data":{"values":[{}]},"mark":{"type":"text","text":"***  vs PBS","font":"Lato","fontSize":19,"align":"left","baseline":"middle"},"encoding":{"x":{"datum":10.9,"type":"quantitative","scale":{"domain":[10,33.57],"range":[592,757],"nice":false,"zero":false},"axis":null},"y":{"datum":45.6,"type":"quantitative"}}},
  {"data":{"values":[{}]},"mark":{"type":"text","text":"** vs S8/IL2/AD-S8","font":"Lato","fontSize":16,"align":"left","baseline":"middle"},"encoding":{"x":{"datum":10.9,"type":"quantitative","scale":{"domain":[10,33.57],"range":[592,757],"nice":false,"zero":false},"axis":null},"y":{"datum":40.6,"type":"quantitative"}}}
 ]},
{"width":775,"height":42,"data":{"values":[{}]},"mark":{"type":"text","text":"Days after tumor challenge","fontSize":24,"baseline":"middle"},
 "encoding":{"x":{"datum":51.6,"type":"quantitative","scale":{"domain":[0,100]},"axis":null},"y":{"datum":47.6,"type":"quantitative","scale":{"domain":[0,100],"reverse":true},"axis":null}}},
{"width":775,"height":111,
 "resolve":{"scale":{"x":"independent"},"axis":{"x":"independent"}},
 "encoding":{"y":{"field":"r","type":"nominal","scale":{"type":"band","domain":["r1","r2"],"paddingInner":0.04,"paddingOuter":0},"axis":null}},
 "layer":[
  {"data":{"values":[{"r":"r1"},{"r":"r2"}]},"mark":{"type":"bar","color":"#dcdcdc"},"encoding":{"x":{"datum":0,"type":"quantitative","scale":{"domain":[0,1],"range":[22,136],"nice":false},"axis":null},"x2":{"datum":1}}},
  {"data":{"values":[{"r":"r1"},{"r":"r2"}]},"mark":{"type":"bar","color":"#dcdcdc"},"encoding":{"x":{"datum":0,"type":"quantitative","scale":{"domain":[0,1],"range":[139,266],"nice":false},"axis":null},"x2":{"datum":1}}},
  {"data":{"values":[{"r":"r1"},{"r":"r2"}]},"mark":{"type":"bar","color":"#dcdcdc"},"encoding":{"x":{"datum":0,"type":"quantitative","scale":{"domain":[0,1],"range":[269,431],"nice":false},"axis":null},"x2":{"datum":1}}},
  {"data":{"values":[{"r":"r1"},{"r":"r2"}]},"mark":{"type":"bar","color":"#dcdcdc"},"encoding":{"x":{"datum":0,"type":"quantitative","scale":{"domain":[0,1],"range":[434,596],"nice":false},"axis":null},"x2":{"datum":1}}},
  {"data":{"values":[{"r":"r1"},{"r":"r2"}]},"mark":{"type":"bar","color":"#dcdcdc"},"encoding":{"x":{"datum":0,"type":"quantitative","scale":{"domain":[0,1],"range":[599,764],"nice":false},"axis":null},"x2":{"datum":1}}},
  {"data":{"values":[{"r":"r1","t":["Mice each","group"]},{"r":"r2","t":["No tumor","\u00a0\u00a0mice"]}]},"mark":{"type":"text","fontSize":19,"align":"left","dx":9,"dy":-12,"baseline":"middle","lineHeight":24},"encoding":{"x":{"datum":0,"type":"quantitative","scale":{"domain":[0,1],"range":[22,136],"nice":false},"axis":null},"text":{"field":"t"}}},
  {"data":{"values":[{"r":"r1","t":"9"},{"r":"r2","t":"0"}]},"mark":{"type":"text","fontSize":19,"dy":-11,"baseline":"middle"},"encoding":{"x":{"datum":0.5,"type":"quantitative","scale":{"domain":[0,1],"range":[139,266],"nice":false},"axis":null},"text":{"field":"t"}}},
  {"data":{"values":[{"r":"r1","t":"12"},{"r":"r2","t":"0"}]},"mark":{"type":"text","fontSize":19,"dy":-11,"baseline":"middle"},"encoding":{"x":{"datum":0.5,"type":"quantitative","scale":{"domain":[0,1],"range":[269,431],"nice":false},"axis":null},"text":{"field":"t"}}},
  {"data":{"values":[{"r":"r1","t":"10"},{"r":"r2","t":"0"}]},"mark":{"type":"text","fontSize":19,"dy":-11,"baseline":"middle"},"encoding":{"x":{"datum":0.5,"type":"quantitative","scale":{"domain":[0,1],"range":[434,596],"nice":false},"axis":null},"text":{"field":"t"}}},
  {"data":{"values":[{"r":"r1","t":"14"},{"r":"r2","t":"2"}]},"mark":{"type":"text","fontSize":19,"dy":-11,"baseline":"middle"},"encoding":{"x":{"datum":0.5,"type":"quantitative","scale":{"domain":[0,1],"range":[599,764],"nice":false},"axis":null},"text":{"field":"t"}}}
 ]},
{"width":775,"height":62,"data":{"values":[{}]},"mark":{"type":"text","text":"b","fontSize":36,"align":"left","baseline":"middle"},
 "encoding":{"x":{"datum":0.3,"type":"quantitative","scale":{"domain":[0,100]},"axis":null},"y":{"datum":95,"type":"quantitative","scale":{"domain":[0,100],"reverse":true},"axis":null}}},
{"width":775,"height":332,
 "layer":[
  {"data":{"name":"wt"},"mark":{"type":"point","filled":true,"color":"#000","size":60,"opacity":1},
   "encoding":{
    "x":{"field":"g","type":"nominal","scale":{"type":"band","domain":["PBS","Carboplatin","S8/IL2/AD-S8","S8/IL2/AD-S8/Carbo"],"range":[128,632],"paddingInner":0,"paddingOuter":0},
         "axis":{"title":null,"domainColor":"#000","domainWidth":2.5,"tickColor":"#000","tickWidth":2.5,"tickSize":10,"labelFontSize":20,"labelPadding":6,"labelAngle":0,"labelOverlap":false,"labelLimit":400,
                 "labelOffset":{"condition":[{"test":"datum.value === 'S8/IL2/AD-S8'","value":14},{"test":"datum.value === 'S8/IL2/AD-S8/Carbo'","value":68}],"value":3}}},
    "xOffset":{"field":"j","type":"quantitative","scale":{"domain":[-1,1]}},
    "y":{"field":"w","type":"quantitative","scale":{"domain":[0,2],"nice":false,"zero":false},
         "axis":{"offset":-128,"values":[0,0.5,1,1.5,2],"format":".1f","title":"Tmor weight (g)","titleFont":"DejaVu Sans","titleFontSize":23,"titleX":-74,"titleY":172,"titleBaseline":"alphabetic","domainColor":"#000","domainWidth":2.5,"tickColor":"#000","tickWidth":2.5,"tickSize":10,"labelFontSize":20,"labelPadding":7}},
    "shape":{"field":"g","type":"nominal","scale":{"domain":["PBS","Carboplatin","S8/IL2/AD-S8","S8/IL2/AD-S8/Carbo"],"range":["circle","square","triangle-up","triangle-down"]},"legend":null}}},
  {"data":{"name":"stats"},"mark":{"type":"tick","orient":"horizontal","size":83,"thickness":2.5,"color":"#000","opacity":1},"encoding":{"x":{"field":"g","type":"nominal"},"y":{"field":"mean","type":"quantitative"}}},
  {"data":{"name":"stats"},"mark":{"type":"tick","orient":"horizontal","size":40,"thickness":2.5,"color":"#000","opacity":1},"encoding":{"x":{"field":"g","type":"nominal"},"y":{"field":"lo","type":"quantitative"}}},
  {"data":{"name":"stats"},"mark":{"type":"tick","orient":"horizontal","size":40,"thickness":2.5,"color":"#000","opacity":1},"encoding":{"x":{"field":"g","type":"nominal"},"y":{"field":"hi","type":"quantitative"}}},
  {"data":{"name":"stats"},"mark":{"type":"rule","strokeWidth":2.5,"color":"#000"},"encoding":{"x":{"field":"g","type":"nominal"},"y":{"field":"lo","type":"quantitative"},"y2":{"field":"hi"}}},
  {"data":{"values":[{}]},"mark":{"type":"text","text":"*","fontSize":20,"dx":-16,"baseline":"middle"},"encoding":{"x":{"datum":"Carboplatin","type":"nominal"},"y":{"datum":1.92,"type":"quantitative"}}},
  {"data":{"values":[{}]},"mark":{"type":"text","text":"*","fontSize":20,"dx":-10,"baseline":"middle"},"encoding":{"x":{"datum":"S8/IL2/AD-S8","type":"nominal"},"y":{"datum":1.92,"type":"quantitative"}}},
  {"data":{"values":[{}]},"mark":{"type":"text","text":"***","fontSize":20,"dx":-32,"baseline":"middle"},"encoding":{"x":{"datum":"S8/IL2/AD-S8/Carbo","type":"nominal"},"y":{"datum":1.97,"type":"quantitative"}}},
  {"data":{"values":[{}]},"mark":{"type":"text","text":"**","fontSize":20,"dx":-37,"baseline":"middle"},"encoding":{"x":{"datum":"S8/IL2/AD-S8/Carbo","type":"nominal"},"y":{"datum":1.83,"type":"quantitative"}}},
  {"data":{"values":[{}]},"mark":{"type":"text","text":"vs PBS","fontSize":21,"dx":22,"align":"left","baseline":"middle"},"encoding":{"x":{"datum":"S8/IL2/AD-S8/Carbo","type":"nominal"},"y":{"datum":1.96,"type":"quantitative"}}},
  {"data":{"values":[{}]},"mark":{"type":"text","text":"vs S8/IL2/AD-S8","fontSize":21,"dx":5,"align":"left","baseline":"middle"},"encoding":{"x":{"datum":"S8/IL2/AD-S8/Carbo","type":"nominal"},"y":{"datum":1.81,"type":"quantitative"}}}
 ]},
{"width":775,"height":180,
 "data":{"values":[{"p":8.65,"top":"Tumor","bot":"0"},{"p":30.58,"top":"Vaccinization","bot":"1,8,15"},{"p":59.35,"top":"Carboplatin","bot":"1,5,9,13"},{"p":83.48,"top":"","bot":"50"},{"p":90.71,"top":"","bot":"Days"}]},
 "layer":[
  {"data":{"values":[{}]},"mark":{"type":"rule","color":"#444","strokeWidth":3},
   "encoding":{"x":{"datum":7.35,"type":"quantitative","scale":{"domain":[0,100],"nice":false,"zero":false},"axis":null},"x2":{"datum":74.84},"y":{"datum":76.7,"type":"quantitative","scale":{"domain":[0,100],"reverse":true,"nice":false,"zero":false},"axis":null}}},
  {"data":{"values":[{}]},"mark":{"type":"rule","color":"#444","strokeWidth":3,"strokeDash":[12,5,3,5]},
   "encoding":{"x":{"datum":74.84,"type":"quantitative"},"x2":{"datum":97.9},"y":{"datum":76.7,"type":"quantitative"}}},
  {"data":{"values":[{}]},"mark":{"type":"point","shape":"M-1,-1L0,0L-1,1","filled":false,"color":"#444","strokeWidth":2.5,"size":110,"opacity":1},
   "encoding":{"x":{"datum":98.06,"type":"quantitative"},"y":{"datum":76.7,"type":"quantitative"}}},
  {"transform":[{"filter":"datum.top !== ''"}],"mark":{"type":"rule","color":"#222","strokeWidth":2},
   "encoding":{"x":{"field":"p","type":"quantitative"},"y":{"datum":56.7,"type":"quantitative"},"y2":{"datum":74.8}}},
  {"transform":[{"filter":"datum.top !== ''"}],"mark":{"type":"point","shape":"M-1,-1L0,0L1,-1","filled":false,"color":"#222","strokeWidth":2,"size":144,"opacity":1},
   "encoding":{"x":{"field":"p","type":"quantitative"},"y":{"datum":75,"type":"quantitative"}}},
  {"mark":{"type":"text","fontSize":17,"baseline":"middle"},"encoding":{"x":{"field":"p","type":"quantitative"},"y":{"datum":48.9,"type":"quantitative"},"text":{"field":"top"}}},
  {"mark":{"type":"text","fontSize":17,"baseline":"middle"},"encoding":{"x":{"field":"p","type":"quantitative"},"y":{"datum":85,"type":"quantitative"},"text":{"field":"bot"}}},
  {"data":{"values":[{}]},"mark":{"type":"text","text":"c","fontSize":34,"align":"left","baseline":"alphabetic"},"encoding":{"x":{"datum":0.3,"type":"quantitative"},"y":{"datum":76.1,"type":"quantitative"}}}
 ]},
{"width":775,"height":398,
 "layer":[
  {"data":{"name":"surv"},"mark":{"type":"line","interpolate":"step-after","strokeWidth":2.5},
   "encoding":{
    "x":{"field":"d","type":"quantitative","scale":{"domain":[18.42,51.6],"range":[109,740],"nice":false,"zero":false},
         "axis":{"values":[20,25,30,35,40,45,50],"domain":false,"tickColor":"#888","tickWidth":2,"tickSize":10,"offset":2,"labelFont":"DejaVu Sans","labelFontSize":17,"labelPadding":9,"title":"Days after tumor challenge","titleFontSize":27,"titleX":429,"titleY":70,"titleBaseline":"alphabetic"}},
    "y":{"field":"s","type":"quantitative","scale":{"domain":[-5.3,105.6],"nice":false,"zero":false},
         "axis":{"values":[0,20,40,60,80,100],"domain":false,"tickColor":"#888","tickWidth":2,"tickSize":8,"offset":-103,"labelFont":"DejaVu Sans","labelFontSize":18,"labelPadding":8,"title":null}},
    "color":{"field":"g","type":"nominal","scale":{"domain":["PBS","Carboplatin","S8/IL2/AD-S8","S8/IL2/AD-S8/Carbo"],"range":["#333333","#2dbe4a","#5461e8","#7e2f73"]},
             "legend":{"title":null,"orient":"none","legendX":135,"legendY":257,"padding":0,"symbolType":"M-1,0.6H0.15V-0.6H0.9V0.6","symbolSize":1000,"symbolStrokeWidth":2.5,"symbolFillColor":"transparent","labelFont":"DejaVu Sans","labelFontSize":20,"labelFontWeight":"bold","labelColor":"#111","rowPadding":2,"labelOffset":12,"labelLimit":400}},
    "strokeDash":{"field":"g","type":"nominal","scale":{"domain":["PBS","Carboplatin","S8/IL2/AD-S8","S8/IL2/AD-S8/Carbo"],"range":[[1,0],[14,7],[3,4],[12,5,3,5]]},
             "legend":{"title":null,"orient":"none","legendX":135,"legendY":257,"padding":0,"symbolType":"M-1,0.6H0.15V-0.6H0.9V0.6","symbolSize":1000,"symbolStrokeWidth":2.5,"symbolFillColor":"transparent","labelFont":"DejaVu Sans","labelFontSize":20,"labelFontWeight":"bold","labelColor":"#111","rowPadding":2,"labelOffset":12,"labelLimit":400}}}},
  {"data":{"values":[{}]},"mark":{"type":"rect","fillOpacity":0,"stroke":"#9b9b9b","strokeWidth":2},"encoding":{"x":{"datum":18.42,"type":"quantitative"},"x2":{"datum":51.6},"y":{"datum":-5.3,"type":"quantitative"},"y2":{"datum":105.6}}},
  {"data":{"name":"cens"},"transform":[{"filter":"datum.g === 'PBS'"}],"mark":{"type":"point","filled":true,"size":30,"opacity":1,"color":"#333333"},"encoding":{"x":{"field":"d","type":"quantitative"},"y":{"field":"s","type":"quantitative"}}},
  {"data":{"name":"cens"},"transform":[{"filter":"datum.g === 'Carboplatin'"}],"mark":{"type":"point","filled":true,"size":30,"opacity":1,"color":"#2dbe4a"},"encoding":{"x":{"field":"d","type":"quantitative"},"y":{"field":"s","type":"quantitative"}}},
  {"data":{"name":"cens"},"transform":[{"filter":"datum.g === 'S8/IL2/AD-S8/Carbo'"}],"mark":{"type":"point","filled":true,"size":30,"opacity":1,"color":"#6a4fc0"},"encoding":{"x":{"field":"d","type":"quantitative"},"y":{"field":"s","type":"quantitative"}}},
  {"data":{"values":[{}]},"mark":{"type":"text","text":"**","fontSize":15,"baseline":"middle"},"encoding":{"x":{"datum":41.4,"type":"quantitative"},"y":{"datum":54.9,"type":"quantitative"}}},
  {"data":{"values":[{}]},"mark":{"type":"text","text":"VS PBS","fontSize":22,"align":"left","baseline":"middle"},"encoding":{"x":{"datum":42.95,"type":"quantitative"},"y":{"datum":56,"type":"quantitative"}}}
 ]}
]
}
